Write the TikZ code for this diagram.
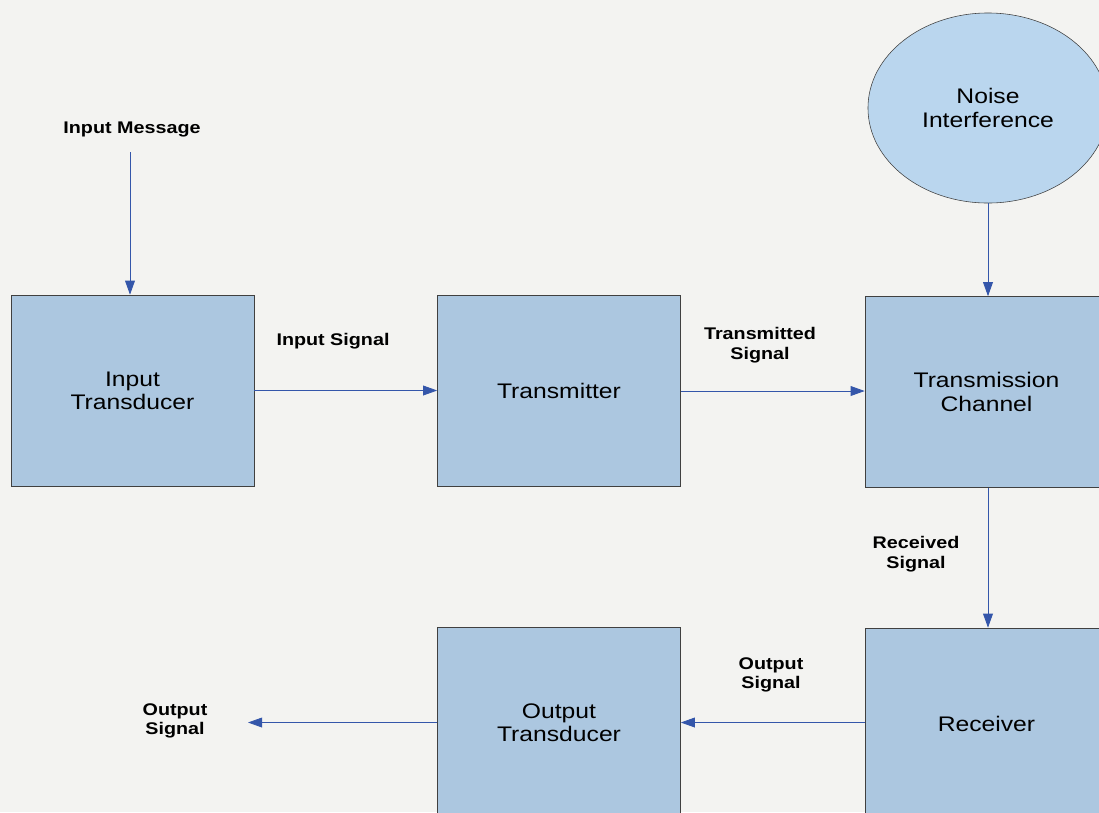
\documentclass[tikz,border=0pt]{standalone}
\usepackage{fontspec}
\setmainfont{Liberation Sans}
\newfontfamily\widesans[FakeStretch=1.17]{Liberation Sans}
\usetikzlibrary{positioning,arrows.meta,shapes.geometric}
\definecolor{blockfill}{RGB}{172,199,224}
\definecolor{noisefill}{RGB}{186,214,238}
\definecolor{linkblue}{RGB}{52,86,170}
\definecolor{paper}{RGB}{243,243,241}

\begin{document}
\begin{tikzpicture}[x=0.025cm, y=-0.025cm]
  \tikzset{
    block/.style={draw=black!75, fill=blockfill, minimum width=6.075cm, minimum height=4.775cm, align=center, font=\widesans\fontsize{15}{16.5}\selectfont},
    noise/.style={ellipse, draw=black!75, fill=noisefill, minimum width=6cm, minimum height=4.75cm, align=center, font=\widesans\fontsize{15}{16.5}\selectfont},
    lbl/.style={align=center, font=\widesans\bfseries\fontsize{12}{14}\selectfont},
    link/.style={draw=linkblue, line width=0.6pt, -{Triangle[length=10pt, width=7pt]}}
  }

  % --- frame ---
  \fill[paper] (0,0) rectangle (1099,812);
  \useasboundingbox (0,0) rectangle (1099,812);
  \clip (0,0) rectangle (1099,812);

  % --- blocks ---
  \node[block] (intrans) at (132.5,390.5) {Input\\Transducer};
  \node[block] (tx) at (559,391) {Transmitter};
  \node[block] (chan) at (986.5,392) {Transmission\\Channel};
  \node[noise] (noise) at (988,108) {Noise\\Interference};
  \node[block] (rx) at (986.5,723.5) {Receiver};
  \node[block] (outtrans) at (559,722.5) {Output\\Transducer};

  % --- free ends and labels ---
  \node[lbl] (inmsg) at (132,129) {Input Message};
  \coordinate (inmsgend) at (130,152);
  \node[lbl] (outsig) at (175,721) {Output\\Signal};
  \coordinate (outend) at (248,722.5);
  \node[lbl] at (333,341) {Input Signal};
  \node[lbl] at (760,345) {Transmitted\\Signal};
  \node[lbl] at (916,554) {Received\\Signal};
  \node[lbl] at (771,675) {Output\\Signal};

  % --- connectors ---
  \draw[link] (inmsgend) -- (inmsgend |- intrans.north);
  \draw[link] (intrans.east) -- (intrans.east -| tx.west);
  \draw[link] (tx.east) -- (tx.east -| chan.west);
  \draw[link] (noise.south) -- (noise.south |- chan.north);
  \draw[link] (noise.south |- chan.south) -- (noise.south |- rx.north);
  \draw[link] (rx.west |- outtrans.east) -- (outtrans.east);
  \draw[link] (outtrans.west) -- (outend);
\end{tikzpicture}
\end{document}
